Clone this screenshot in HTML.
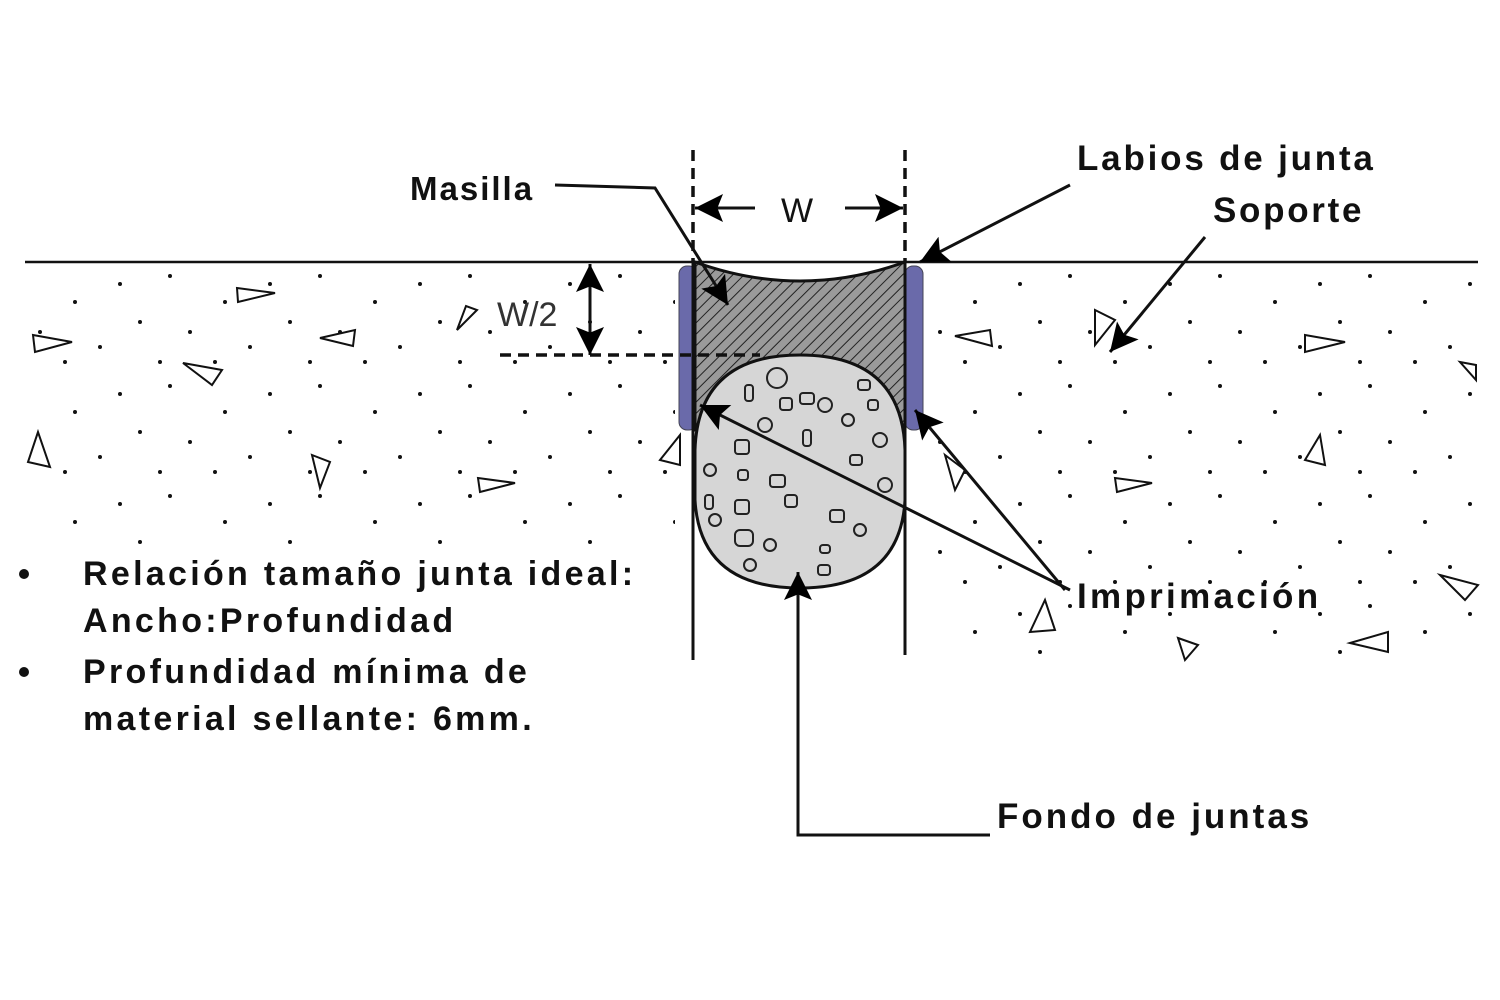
<!DOCTYPE html>
<html><head><meta charset="utf-8"><style>
html,body{margin:0;padding:0;background:#fff;}
svg{display:block;}
text{font-family:"Liberation Sans",Arial,sans-serif;font-weight:bold;fill:#111;}
</style></head><body>
<svg width="1500" height="1000" viewBox="0 0 1500 1000" xmlns="http://www.w3.org/2000/svg">
<defs>
<pattern id="dots" x="0" y="262" width="150" height="110" patternUnits="userSpaceOnUse">
<circle cx="20" cy="14" r="2" fill="#111"/><circle cx="75" cy="40" r="2" fill="#111"/>
<circle cx="120" cy="22" r="2" fill="#111"/><circle cx="40" cy="70" r="2" fill="#111"/>
<circle cx="100" cy="85" r="2" fill="#111"/><circle cx="140" cy="60" r="2" fill="#111"/>
<circle cx="10" cy="100" r="2" fill="#111"/><circle cx="65" cy="100" r="2" fill="#111"/>
</pattern>
<pattern id="hatch" width="8" height="8" patternUnits="userSpaceOnUse" patternTransform="rotate(45)">
<rect width="8" height="8" fill="#9a9a9a"/><line x1="0" y1="0" x2="0" y2="8" stroke="#222" stroke-width="2"/>
</pattern>
<marker id="big" viewBox="0 0 10 10" refX="10" refY="5" markerWidth="34" markerHeight="28" orient="auto" markerUnits="userSpaceOnUse">
<path d="M0,0 L10,5 L0,10 L2,5 z" fill="#000"/></marker>
</defs>
<rect x="25" y="264" width="650" height="280" fill="url(#dots)"/>
<rect x="925" y="264" width="553" height="395" fill="url(#dots)"/>
<g fill="#fff" stroke="#111" stroke-width="2">
<path d="M237,288 L275,293 L238,302 z"/><path d="M33,335 L72,342 L35,352 z"/><path d="M320,338 L355,330 L353,346 z"/>
<path d="M183,363 L222,370 L212,385 z"/><path d="M457,330 L477,310 L466,306 z"/><path d="M38,432 L28,462 L50,467 z"/>
<path d="M312,455 L330,462 L320,488 z"/><path d="M478,478 L515,483 L480,492 z"/><path d="M660,460 L680,435 L680,465 z"/>
<path d="M955,336 L990,330 L992,346 z"/><path d="M1095,310 L1115,320 L1095,345 z"/><path d="M1305,335 L1345,342 L1305,352 z"/>
<path d="M1460,362 L1476,365 L1476,380 z"/><path d="M945,455 L965,470 L955,490 z"/><path d="M1115,478 L1152,483 L1117,492 z"/>
<path d="M1305,460 L1320,435 L1325,465 z"/><path d="M1440,575 L1478,585 L1465,600 z"/><path d="M1045,600 L1055,630 L1030,632 z"/>
<path d="M1350,643 L1388,632 L1388,652 z"/><path d="M1178,638 L1198,645 L1185,660 z"/>
</g>
<line x1="25" y1="262" x2="1478" y2="262" stroke="#111" stroke-width="2.5"/>
<rect x="679" y="266" width="18" height="164" rx="8" fill="#6a6aaa" stroke="#445" stroke-width="1"/>
<rect x="905" y="266" width="18" height="164" rx="8" fill="#6a6aaa" stroke="#445" stroke-width="1"/>
<path d="M695,262 Q800,300 905,262 L905,430 L695,430 z" fill="url(#hatch)" stroke="#111" stroke-width="3"/>
<path d="M695,450 Q698,355 800,355 Q902,355 905,450 L905,500 Q900,588 800,588 Q700,588 695,500 z" fill="#d6d6d6" stroke="#111" stroke-width="3"/>
<g fill="none" stroke="#222" stroke-width="2">
<circle cx="777" cy="378" r="10"/><rect x="800" y="393" width="14" height="11" rx="3"/><circle cx="825" cy="405" r="7"/><rect x="745" y="385" width="8" height="16" rx="3"/>
<rect x="780" y="398" width="12" height="12" rx="3"/><circle cx="848" cy="420" r="6"/><rect x="868" y="400" width="10" height="10" rx="3"/>
<rect x="735" y="440" width="14" height="14" rx="3"/><circle cx="765" cy="425" r="7"/><rect x="803" y="430" width="8" height="16" rx="3"/>
<circle cx="880" cy="440" r="7"/><rect x="850" y="455" width="12" height="10" rx="3"/><circle cx="710" cy="470" r="6"/>
<rect x="738" y="470" width="10" height="10" rx="3"/><rect x="770" y="475" width="15" height="12" rx="3"/><circle cx="885" cy="485" r="7"/>
<rect x="735" y="500" width="14" height="14" rx="3"/><rect x="785" y="495" width="12" height="12" rx="3"/><circle cx="715" cy="520" r="6"/>
<rect x="830" y="510" width="14" height="12" rx="3"/><circle cx="860" cy="530" r="6"/><rect x="735" y="530" width="18" height="16" rx="5"/>
<circle cx="770" cy="545" r="6"/><rect x="820" y="545" width="10" height="8" rx="3"/><circle cx="750" cy="565" r="6"/><rect x="818" y="565" width="12" height="10" rx="3"/>
<rect x="705" y="495" width="8" height="14" rx="3"/><rect x="858" y="380" width="12" height="10" rx="3"/>
</g>
<line x1="693" y1="262" x2="693" y2="660" stroke="#111" stroke-width="3"/>
<line x1="905" y1="262" x2="905" y2="655" stroke="#111" stroke-width="3"/>
<g stroke="#111" stroke-width="3.5" stroke-dasharray="11,7"><line x1="693" y1="150" x2="693" y2="262"/><line x1="905" y1="150" x2="905" y2="262"/>
<line x1="500" y1="355" x2="760" y2="355"/></g>
<line x1="755" y1="208" x2="695" y2="208" stroke="#111" stroke-width="3" marker-end="url(#big)"/>
<line x1="845" y1="208" x2="903" y2="208" stroke="#111" stroke-width="3" marker-end="url(#big)"/>
<text x="781" y="222" font-size="34" style="font-weight:normal">W</text>
<line x1="590" y1="310" x2="590" y2="264" stroke="#111" stroke-width="3" marker-end="url(#big)"/>
<line x1="590" y1="310" x2="590" y2="355" stroke="#111" stroke-width="3" marker-end="url(#big)"/>
<text x="497" y="326" font-size="34" style="font-weight:normal;fill:#333">W/2</text>
<g stroke="#111" stroke-width="3" fill="none">
<polyline points="555,185 655,188 728,305" marker-end="url(#big)"/>
<line x1="1070" y1="185" x2="920" y2="262" marker-end="url(#big)"/>
<line x1="1205" y1="237" x2="1110" y2="352" marker-end="url(#big)"/>
<line x1="1070" y1="590" x2="700" y2="405" marker-end="url(#big)"/>
<line x1="1065" y1="590" x2="915" y2="410" marker-end="url(#big)"/>
<polyline points="990,835 798,835 798,572" marker-end="url(#big)"/>
</g>
<text x="410" y="200" font-size="33" letter-spacing="2">Masilla</text>
<text x="1077" y="170" font-size="35" letter-spacing="2.8">Labios de junta</text>
<text x="1213" y="222" font-size="35" letter-spacing="2.7">Soporte</text>
<text x="1077" y="608" font-size="35" letter-spacing="3.3">Imprimación</text>
<text x="997" y="828" font-size="35" letter-spacing="3">Fondo de juntas</text>
<circle cx="24" cy="574" r="5" fill="#111"/><circle cx="24" cy="672" r="5" fill="#111"/>
<g font-size="34" letter-spacing="3.3">
<text x="83" y="585">Relación tamaño junta ideal:</text>
<text x="83" y="632">Ancho:Profundidad</text>
<text x="83" y="683">Profundidad mínima de</text>
<text x="83" y="730">material sellante: 6mm.</text>
</g>
</svg>
</body></html>
